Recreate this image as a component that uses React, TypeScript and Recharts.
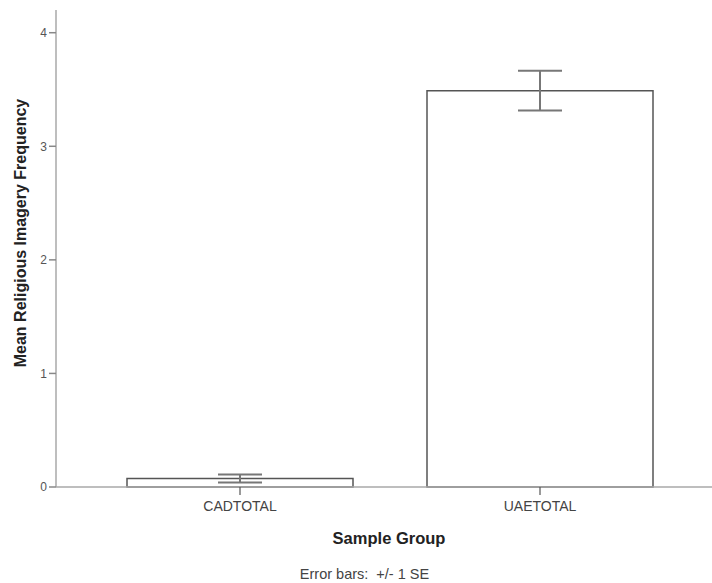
import { BarChart, Bar, XAxis, YAxis, ErrorBar, Label } from "recharts";

const groups = ["CADTOTAL", "UAETOTAL"];
const means = [0.075, 3.49];
const standardErrors = [0.035, 0.175];
const yTicks = [0, 1, 2, 3, 4];

const data = groups.map((group, i) => ({
  group,
  mean: means[i],
  se: standardErrors[i],
}));

const FONT = "'Liberation Sans', Arial, sans-serif";

export default function App() {
  return (
    <div
      style={{
        position: "absolute",
        left: 0,
        top: 0,
        width: 712,
        height: 583,
        background: "#fff",
        fontFamily: FONT,
        overflow: "hidden",
      }}
    >
      <BarChart
        width={712}
        height={583}
        data={data}
        margin={{ top: 10, right: 0, bottom: 0, left: 0 }}
      >
        <XAxis
          dataKey="group"
          padding={{ left: 34, right: 22 }}
          stroke="#a8a8a8"
          strokeWidth={1.5}
          tickSize={8}
          tickMargin={6}
          tickLine={{ stroke: "#555", strokeWidth: 1.2 }}
          tick={{ fill: "#444", fontSize: 14, fontFamily: FONT }}
          height={96}
        >
          <Label
            content={() => (
              <text
                x={389}
                y={544}
                textAnchor="middle"
                fontFamily={FONT}
                fontWeight="bold"
                fontSize={16.5}
                fill="#222"
              >
                Sample Group
              </text>
            )}
          />
        </XAxis>
        <YAxis
          domain={[0, 4.2]}
          ticks={yTicks}
          width={56}
          stroke="#a8a8a8"
          strokeWidth={1.5}
          tickSize={7}
          tickMargin={2}
          tickLine={{ stroke: "#888", strokeWidth: 1.5 }}
          tick={{ fill: "#555", fontSize: 12, fontFamily: FONT }}
        >
          <Label
            content={() => (
              <text
                x={22}
                y={233}
                transform="rotate(-90 22 233)"
                textAnchor="middle"
                dominantBaseline="middle"
                fontFamily={FONT}
                fontWeight="bold"
                fontSize={16}
                fill="#222"
              >
                Mean Religious Imagery Frequency
              </text>
            )}
          />
        </YAxis>
        <Bar
          dataKey="mean"
          barSize={226}
          fill="#fff"
          stroke="#555"
          strokeWidth={1.5}
          isAnimationActive={false}
        >
          <ErrorBar
            dataKey="se"
            width={22}
            stroke="#777"
            strokeWidth={2}
            direction="y"
          />
        </Bar>
      </BarChart>
      <div
        style={{
          position: "absolute",
          left: 0,
          width: 729,
          top: 566,
          textAlign: "center",
          fontSize: 14.5,
          lineHeight: "17px",
          color: "#444",
          whiteSpace: "pre",
        }}
      >
        {"Error bars:  +/- 1 SE"}
      </div>
    </div>
  );
}
